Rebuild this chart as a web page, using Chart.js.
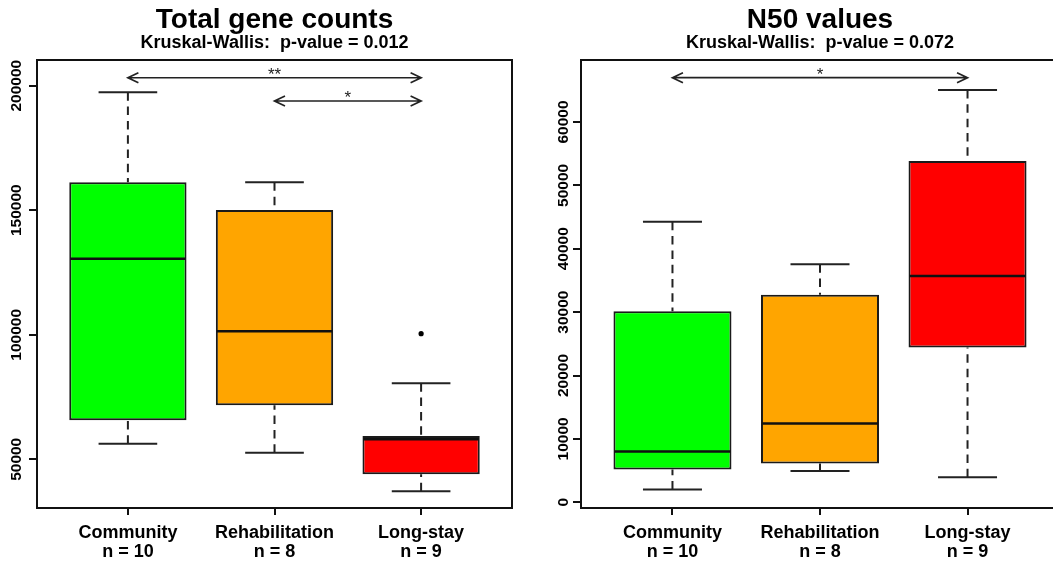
<!DOCTYPE html>
<html><head><meta charset="utf-8">
<script src="https://cdn.jsdelivr.net/npm/chart.js@4.4.1/dist/chart.umd.min.js"></script>
<style>
html,body{margin:0;padding:0;background:#fff;overflow:hidden;width:1053px;height:564px;position:relative;}
#c1{position:absolute;left:0;top:0;}
#c2{position:absolute;left:526px;top:0;}
</style></head><body>
<canvas id="c1" width="526" height="564"></canvas>
<canvas id="c2" width="544" height="564"></canvas>
<script>
const categories = ['Community', 'Rehabilitation', 'Long-stay'];
const groupSizes = ['n = 10', 'n = 8', 'n = 9'];
const boxColors = ['#00FF00', '#FFA500', '#FF0000'];

// Panel 1: Total gene counts
const geneMin = [56260, 52650, 37150];
const geneQ1 = [65660, 71680, 43980];
const geneMedian = [130540, 101400, 58030];
const geneQ3 = [161200, 150100, 59350];
const geneMax = [197350, 161200, 80510];
const geneOutliers = [[], [], [100430]];
const geneTicks = [50000, 100000, 150000, 200000];
const geneCompFrom = [1, 2];
const geneCompTo = [3, 3];
const geneCompY = [203200, 193860];
const geneCompLabel = ['**', '*'];

// Panel 2: N50 values
const n50Min = [2000, 4950, 3950];
const n50Q1 = [5160, 6110, 24430];
const n50Median = [8000, 12430, 35690];
const n50Q3 = [30160, 32730, 53840];
const n50Max = [44260, 37580, 65050];
const n50Outliers = [[], [], []];
const n50Ticks = [0, 10000, 20000, 30000, 40000, 50000, 60000];
const n50CompFrom = [1];
const n50CompTo = [3];
const n50CompY = [67000];
const n50CompLabel = ['*'];

const FONT = '"Liberation Sans", Arial, Helvetica, sans-serif';
Chart.defaults.font.family = FONT;
Chart.defaults.color = '#000';

function makeBoxPlugin(s) {
  return {
    id: 'boxExtras',
    beforeDatasetsDraw(chart) {
      const {ctx, scales: {x, y}} = chart;
      ctx.save();
      ctx.strokeStyle = '#222';
      ctx.lineWidth = 2;
      ctx.setLineDash([8.5, 5.8]);
      s.min.forEach((v, i) => {
        const px = x.getPixelForValue(i + 1);
        ctx.beginPath();
        ctx.moveTo(px, y.getPixelForValue(s.max[i]));
        ctx.lineTo(px, y.getPixelForValue(s.q3[i]));
        ctx.stroke();
        ctx.beginPath();
        ctx.moveTo(px, y.getPixelForValue(s.min[i]));
        ctx.lineTo(px, y.getPixelForValue(s.q1[i]));
        ctx.stroke();
      });
      ctx.setLineDash([]);
      s.min.forEach((v, i) => {
        const a = x.getPixelForValue(i + 1 - 0.2), b = x.getPixelForValue(i + 1 + 0.2);
        [s.min[i], s.max[i]].forEach(val => {
          const py = y.getPixelForValue(val);
          ctx.beginPath(); ctx.moveTo(a, py); ctx.lineTo(b, py); ctx.stroke();
        });
      });
      ctx.restore();
    },
    afterDatasetsDraw(chart) {
      const {ctx, chartArea: ca, scales: {x, y}} = chart;
      ctx.save();
      // medians
      ctx.strokeStyle = '#111';
      ctx.lineWidth = 2.5;
      s.median.forEach((m, i) => {
        const a = x.getPixelForValue(i + 1 - 0.4) + 1, b = x.getPixelForValue(i + 1 + 0.4) - 1;
        const py = y.getPixelForValue(m);
        ctx.beginPath(); ctx.moveTo(a, py); ctx.lineTo(b, py); ctx.stroke();
      });
      // comparison arrows
      ctx.strokeStyle = '#222';
      ctx.lineWidth = 1.7;
      ctx.fillStyle = '#222';
      ctx.font = '17px ' + FONT;
      ctx.textAlign = 'center';
      ctx.textBaseline = 'alphabetic';
      s.compFrom.forEach((f, i) => {
        const xa = x.getPixelForValue(f), xb = x.getPixelForValue(s.compTo[i]);
        const py = y.getPixelForValue(s.compY[i]);
        const hl = 10.5, hw = 5;
        ctx.beginPath();
        ctx.moveTo(xa, py); ctx.lineTo(xb, py);
        ctx.moveTo(xa + hl, py - hw); ctx.lineTo(xa, py); ctx.lineTo(xa + hl, py + hw);
        ctx.moveTo(xb - hl, py - hw); ctx.lineTo(xb, py); ctx.lineTo(xb - hl, py + hw);
        ctx.stroke();
        ctx.fillText(s.compLabel[i], (xa + xb) / 2, py + 2);
      });
      // frame
      ctx.strokeStyle = '#111';
      ctx.lineWidth = 2;
      ctx.strokeRect(ca.left, ca.top, ca.right - ca.left, ca.bottom - ca.top);
      ctx.restore();
    }
  };
}

function makeChart(id, title, subtitle, s, yTicks, yMin, yMax, axisWidth, rightPad, labelPad) {
  const outlierPts = [];
  s.outliers.forEach((arr, i) => arr.forEach(v => outlierPts.push({x: i + 1, y: v})));
  return new Chart(document.getElementById(id), {
    type: 'bar',
    data: {
      datasets: [
        {
          type: 'bar',
          data: s.q1.map((q, i) => ({x: i + 1, y: [q, s.q3[i]]})),
          backgroundColor: boxColors,
          borderColor: '#1a1a1a',
          borderWidth: 2,
          borderSkipped: false,
          categoryPercentage: 1,
          barPercentage: 0.8
        },
        {
          type: 'scatter',
          data: outlierPts,
          pointRadius: 2.6,
          pointBackgroundColor: '#000',
          pointBorderWidth: 0
        }
      ]
    },
    options: {
      responsive: false,
      animation: false,
      devicePixelRatio: 1,
      layout: {padding: {left: 0, right: rightPad, top: 0, bottom: 0}},
      plugins: {
        legend: {display: false},
        tooltip: {enabled: false},
        title: {
          display: true, text: title, fullSize: false, color: '#000',
          font: {family: FONT, size: 28, weight: 'bold', lineHeight: 1},
          padding: {top: 6, bottom: 0}
        },
        subtitle: {
          display: true, text: subtitle, fullSize: false, color: '#000',
          font: {family: FONT, size: 18, weight: 'bold', lineHeight: 1},
          padding: {top: 0, bottom: 8}
        }
      },
      scales: {
        x: {
          type: 'linear', min: 0.38, max: 3.62, offset: false,
          afterBuildTicks: sc => { sc.ticks = [1, 2, 3].map(v => ({value: v})); },
          afterFit: sc => { sc.height = 56; },
          ticks: {
            autoSkip: false, minRotation: 0, maxRotation: 0, color: '#000', padding: 8.5,
            font: {family: FONT, size: 18, weight: 'bold', lineHeight: 1.05},
            callback: v => { const k = Math.round(v) - 1; return [categories[k], groupSizes[k]]; }
          },
          grid: {display: true, offset: false, drawOnChartArea: false, drawTicks: true, tickLength: 7, color: '#111', lineWidth: 2},
          border: {display: false}
        },
        y: {
          type: 'linear', min: yMin, max: yMax,
          afterBuildTicks: sc => { sc.ticks = yTicks.map(v => ({value: v})); },
          afterFit: sc => { sc.width = axisWidth; },
          ticks: {
            autoSkip: false, minRotation: 90, maxRotation: 90, crossAlign: 'center', padding: labelPad,
            color: '#000', font: {family: FONT, size: 15.5, weight: 'bold'},
            callback: v => String(v)
          },
          grid: {display: true, drawOnChartArea: false, drawTicks: true, tickLength: 8, color: '#111', lineWidth: 2},
          border: {display: false}
        }
      }
    },
    plugins: [makeBoxPlugin(s)]
  });
}

makeChart('c1', 'Total gene counts', 'Kruskal-Wallis:  p-value = 0.012',
  {min: geneMin, q1: geneQ1, median: geneMedian, q3: geneQ3, max: geneMax, outliers: geneOutliers,
   compFrom: geneCompFrom, compTo: geneCompTo, compY: geneCompY, compLabel: geneCompLabel},
  geneTicks, 30450, 210320, 37, 14, -14);

makeChart('c2', 'N50 values', 'Kruskal-Wallis:  p-value = 0.072',
  {min: n50Min, q1: n50Q1, median: n50Median, q3: n50Q3, max: n50Max, outliers: n50Outliers,
   compFrom: n50CompFrom, compTo: n50CompTo, compY: n50CompY, compLabel: n50CompLabel},
  n50Ticks, -900, 69790, 55, 11, -11.8);
</script>
</body></html>
